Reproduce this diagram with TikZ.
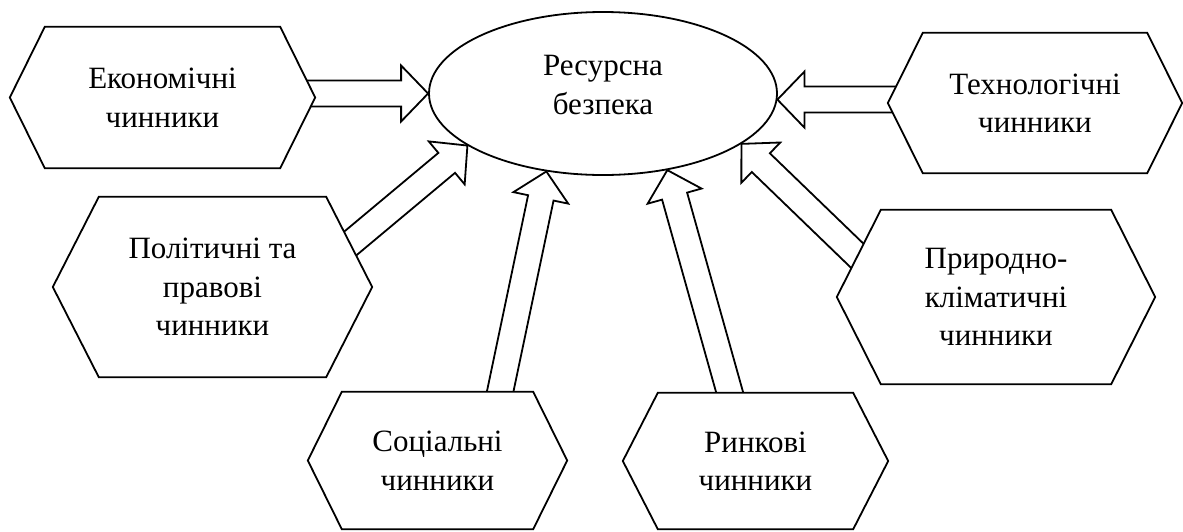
\documentclass[tikz,border=0pt]{standalone}
\usepackage{fontspec}
\setmainfont{Liberation Serif}
\usetikzlibrary{calc,shapes.geometric}
\pgfdeclarelayer{arrowlayer}
\pgfdeclarelayer{shapelayer}
\pgfsetlayers{arrowlayer,shapelayer,main}
\newcommand{\hexpath}[2]{%
  \draw[hexline] (#1.west) -- ([xshift=#2]#1.north west) -- ([xshift=-#2]#1.north east)
    -- (#1.east) -- ([xshift=-#2]#1.south east) -- ([xshift=#2]#1.south west) -- cycle;}
\newcommand{\blockarrow}[2]{%
  \coordinate (hb) at ($(#2)!27pt!(#1)$);
  \draw[arrline] ($(#1)!13pt!90:(#2)$) -- ($(hb)!13pt!90:(#2)$) -- ($(hb)!28pt!90:(#2)$)
    -- (#2) -- ($(hb)!28pt!-90:(#2)$) -- ($(hb)!13pt!-90:(#2)$) -- ($(#1)!13pt!-90:(#2)$) -- cycle;}
\tikzset{
  txt/.style={align=center, inner sep=0pt, font=\fontsize{31}{38.5}\selectfont},
  hexnode/.style={txt, shape=rectangle},
  hexline/.style={draw=black, fill=white, line width=1.8pt, line join=miter},
  arrline/.style={draw=black, fill=white, line width=1.8pt, line join=miter},
}
\begin{document}
\begin{tikzpicture}[x=1pt,y=-1pt]
\useasboundingbox (0,0) rectangle (1183,531);
% centre ellipse
\node[ellipse, draw, fill=white, line width=1.8pt, minimum width=348pt, minimum height=163pt, inner sep=0pt,
  label={[txt,yshift=8.5pt]center:{Ресурсна\\безпека}}] (res) at (603,93.5) {};
% factor nodes
\node[hexnode, minimum width=305pt, minimum height=141pt] (eco) at (162.5,97.5) {Економічні\\чинники};
\node[hexnode, minimum width=294pt, minimum height=140pt] (tech) at (1035,103) {Технологічні\\чинники};
\node[hexnode, minimum width=319pt, minimum height=180pt] (pol) at (212.5,287) {Політичні та\\правові\\чинники};
\node[hexnode, minimum width=318pt, minimum height=174pt] (prir) at (996,297) {Природно-\\кліматичні\\чинники};
\node[hexnode, minimum width=259pt, minimum height=137pt] (soc) at (437.5,460.5) {Соціальні\\чинники};
\node[hexnode, minimum width=265pt, minimum height=136pt] (rin) at (755.5,461) {Ринкові\\чинники};
% hexagon outlines
\begin{pgfonlayer}{shapelayer}
\hexpath{eco}{35pt}
\hexpath{tech}{35pt}
\hexpath{pol}{46pt}
\hexpath{prir}{44pt}
\hexpath{soc}{34pt}
\hexpath{rin}{35pt}
\end{pgfonlayer}
% block arrows
\coordinate (s1) at (res.west -| eco.center);
\coordinate (s2) at (res.-2 -| tech.center);
\coordinate (s3) at ([shift={(87.5,-1.5)}]pol.center);
\coordinate (s4) at ([shift={(-96,0)}]prir.center);
\coordinate (s5) at ([shift={(52.5,-20.5)}]soc.center);
\coordinate (s6) at ([shift={(-12.5,-21)}]rin.center);
\begin{pgfonlayer}{arrowlayer}
\blockarrow{s1}{res.west}
\blockarrow{s2}{res.-2}
\blockarrow{s3}{res.201}
\blockarrow{s4}{res.340}
\blockarrow{s5}{res.234.5}
\blockarrow{s6}{res.310}
\end{pgfonlayer}
\end{tikzpicture}
\end{document}
